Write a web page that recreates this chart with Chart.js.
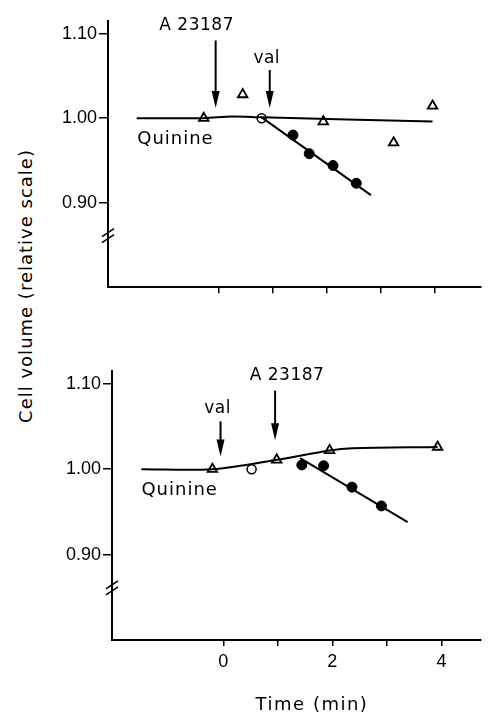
<!DOCTYPE html>
<html>
<head>
<meta charset="utf-8">
<script src="https://cdn.jsdelivr.net/npm/chart.js@4/dist/chart.umd.min.js"></script>
<style>
  body { margin: 0; background: #fff; }
  #wrap { position: relative; width: 488px; height: 722px; overflow: hidden; font-family: "DejaVu Sans", sans-serif; color: #000; }
  .panel { position: absolute; left: 0; }
  #yTitle { position: absolute; left: 25px; top: 286px; transform: translate(-50%, -50%) rotate(-90deg); white-space: nowrap; font-size: 18px; letter-spacing: 1px; }
  #xTitle { position: absolute; left: 312px; top: 703px; transform: translate(-50%, -50%); white-space: nowrap; font-size: 18px; letter-spacing: 1.5px; }
</style>
</head>
<body>
<div id="wrap">
  <div id="yTitle">Cell volume (relative scale)</div>
  <canvas id="topChart" class="panel" style="top:0" width="488" height="300"></canvas>
  <canvas id="bottomChart" class="panel" style="top:352px" width="488" height="370"></canvas>
  <div id="xTitle">Time (min)</div>
</div>
<script>
// Tick values / labels
const yTickValues = [0.9, 1.0, 1.1];
const xTickValues = [0, 1, 2, 3, 4];
const xTickLabels = ["0", "", "2", "", "4"];

// Top panel: A 23187 first, then valinomycin
const topTriangles = [
  { x: -0.27, y: 1.0 }, { x: 0.45, y: 1.028 }, { x: 1.94, y: 0.996 },
  { x: 3.24, y: 0.971 }, { x: 3.96, y: 1.0145 }
];
const topOpen = [{ x: 0.8, y: 1.0 }];
const topFilled = [
  { x: 1.38, y: 0.98 }, { x: 1.68, y: 0.958 }, { x: 2.12, y: 0.944 }, { x: 2.55, y: 0.923 }
];
const topQuinineLine = [
  { x: -1.51, y: 1.0 }, { x: -0.27, y: 1.0 }, { x: 0.25, y: 1.002 },
  { x: 0.8, y: 1.001 }, { x: 3.96, y: 0.996 }
];
const topFilledLine = [{ x: 0.8, y: 1.001 }, { x: 2.82, y: 0.909 }];
const topArrowTimes = [-0.05, 0.95];
const topArrowLabels = ["A 23187", "val"];

// Bottom panel: valinomycin first, then A 23187
const bottomTriangles = [
  { x: -0.2, y: 1.0 }, { x: 0.98, y: 1.011 }, { x: 1.95, y: 1.022 }, { x: 3.93, y: 1.026 }
];
const bottomOpen = [{ x: 0.52, y: 1.0 }];
const bottomFilled = [
  { x: 1.44, y: 1.005 }, { x: 1.84, y: 1.004 }, { x: 2.36, y: 0.979 }, { x: 2.9, y: 0.957 }
];
const bottomQuinineLine = [
  { x: -1.5, y: 1.0 }, { x: -0.2, y: 1.0 }, { x: 0.98, y: 1.011 },
  { x: 1.95, y: 1.022 }, { x: 2.37, y: 1.0245 }, { x: 3.93, y: 1.026 }
];
const bottomFilledLine = [{ x: 1.41, y: 1.013 }, { x: 3.38, y: 0.938 }];
const bottomArrowTimes = [-0.05, 0.95];
const bottomArrowLabels = ["val", "A 23187"];

const tickFont = { family: "'Liberation Sans', sans-serif", size: 18 };
const ink = "#000";

// arrows, "Quinine" label and axis break drawn on top of the chart
const annotationPlugin = {
  id: "annotations",
  afterDraw(chart, args, opts) {
    const ctx = chart.ctx;
    const xs = chart.scales.x;
    const ys = chart.scales.y;
    ctx.save();
    ctx.fillStyle = ink;
    ctx.strokeStyle = ink;

    // arrows with labels
    opts.arrows.forEach((a) => {
      const px = xs.getPixelForValue(a.time);
      const y0 = ys.getPixelForValue(a.from);
      const y1 = ys.getPixelForValue(a.to);
      ctx.lineWidth = 2;
      ctx.beginPath();
      ctx.moveTo(px, y0);
      ctx.lineTo(px, y1 - 14);
      ctx.stroke();
      ctx.beginPath();
      ctx.moveTo(px - 4, y1 - 17);
      ctx.lineTo(px + 4, y1 - 17);
      ctx.lineTo(px, y1);
      ctx.closePath();
      ctx.fill();
      ctx.font = "17px 'DejaVu Sans'";
      ctx.letterSpacing = "0.5px";
      ctx.textAlign = "center";
      ctx.textBaseline = "middle";
      ctx.fillText(a.label, px + a.dx, ys.getPixelForValue(a.labelY));
    });

    // Quinine label
    ctx.font = "18px 'DejaVu Sans'";
    ctx.letterSpacing = "1px";
    ctx.textAlign = "left";
    ctx.textBaseline = "middle";
    ctx.fillText("Quinine", xs.getPixelForValue(-1.5), ys.getPixelForValue(0.975));

    // axis break
    const bx = xs.left;
    const by = ys.getPixelForValue(0.861);
    ctx.lineWidth = 1.5;
    [-3, 3].forEach((o) => {
      ctx.beginPath();
      ctx.moveTo(bx - 6, by + o + 4);
      ctx.lineTo(bx + 6, by + o - 4);
      ctx.stroke();
    });
    ctx.restore();
  }
};

function buildDatasets(tri, open, filled, qLine, fLine) {
  return [
    { data: qLine, showLine: true, borderColor: ink, borderWidth: 2, pointRadius: 0, tension: 0.3 },
    { data: fLine, showLine: true, borderColor: ink, borderWidth: 2, pointRadius: 0 },
    { data: tri, showLine: false, pointStyle: "triangle", pointRadius: 5.5,
      backgroundColor: "#fff", borderColor: ink, borderWidth: 1.8 },
    { data: open, showLine: false, pointStyle: "circle", pointRadius: 4.5,
      backgroundColor: "#fff", borderColor: ink, borderWidth: 1.5 },
    { data: filled, showLine: false, pointStyle: "circle", pointRadius: 5,
      backgroundColor: ink, borderColor: ink, borderWidth: 1 }
  ];
}

function makeConfig(datasets, xMax, yWidth, xHeight, padTop, showXLabels, arrows) {
  return {
    type: "scatter",
    data: { datasets: datasets },
    plugins: [annotationPlugin],
    options: {
      responsive: false,
      animation: false,
      devicePixelRatio: 1,
      layout: { padding: { top: padTop, right: 1, left: 0, bottom: 0 } },
      plugins: {
        legend: { display: false },
        tooltip: { enabled: false },
        annotations: { arrows: arrows }
      },
      scales: {
        x: {
          type: "linear",
          min: -2.04,
          max: xMax,
          afterBuildTicks: (scale) => {
            scale.ticks = xTickValues.map((v) => ({ value: v }));
          },
          afterFit: (scale) => { scale.height = xHeight; },
          ticks: {
            autoSkip: false,
            maxRotation: 0,
            color: ink,
            font: tickFont,
            padding: 5,
            callback: (v) => (showXLabels ? xTickLabels[xTickValues.indexOf(v)] : "")
          },
          grid: { drawOnChartArea: false, color: ink, lineWidth: 1.5, tickLength: 6 },
          border: { color: ink, width: 2 }
        },
        y: {
          type: "linear",
          min: 0.8,
          max: 1.115,
          afterBuildTicks: (scale) => {
            scale.ticks = yTickValues.map((v) => ({ value: v }));
          },
          afterFit: (scale) => { scale.width = yWidth; },
          ticks: {
            color: ink,
            font: tickFont,
            padding: 2,
            callback: (v) => v.toFixed(2)
          },
          grid: { drawOnChartArea: false, color: ink, lineWidth: 1.5, tickLength: 9 },
          border: { color: ink, width: 2 }
        }
      }
    }
  };
}

const topArrows = topArrowTimes.map((t, i) => ({
  time: t,
  label: topArrowLabels[i],
  from: i === 0 ? 1.092 : 1.057,
  to: 1.012,
  labelY: i === 0 ? 1.11 : 1.071,
  dx: i === 0 ? -19 : -3
}));
const bottomArrows = bottomArrowTimes.map((t, i) => ({
  time: t,
  label: bottomArrowLabels[i],
  from: i === 0 ? 1.056 : 1.092,
  to: i === 0 ? 1.015 : 1.034,
  labelY: i === 0 ? 1.071 : 1.11,
  dx: i === 0 ? -3 : 12
}));

new Chart(
  document.getElementById("topChart"),
  makeConfig(
    buildDatasets(topTriangles, topOpen, topFilled, topQuinineLine, topFilledLine),
    4.85, 108, 11, 21, false, topArrows
  )
);
new Chart(
  document.getElementById("bottomChart"),
  makeConfig(
    buildDatasets(bottomTriangles, bottomOpen, bottomFilled, bottomQuinineLine, bottomFilledLine),
    4.72, 112, 82, 19, true, bottomArrows
  )
);
</script>
</body>
</html>
